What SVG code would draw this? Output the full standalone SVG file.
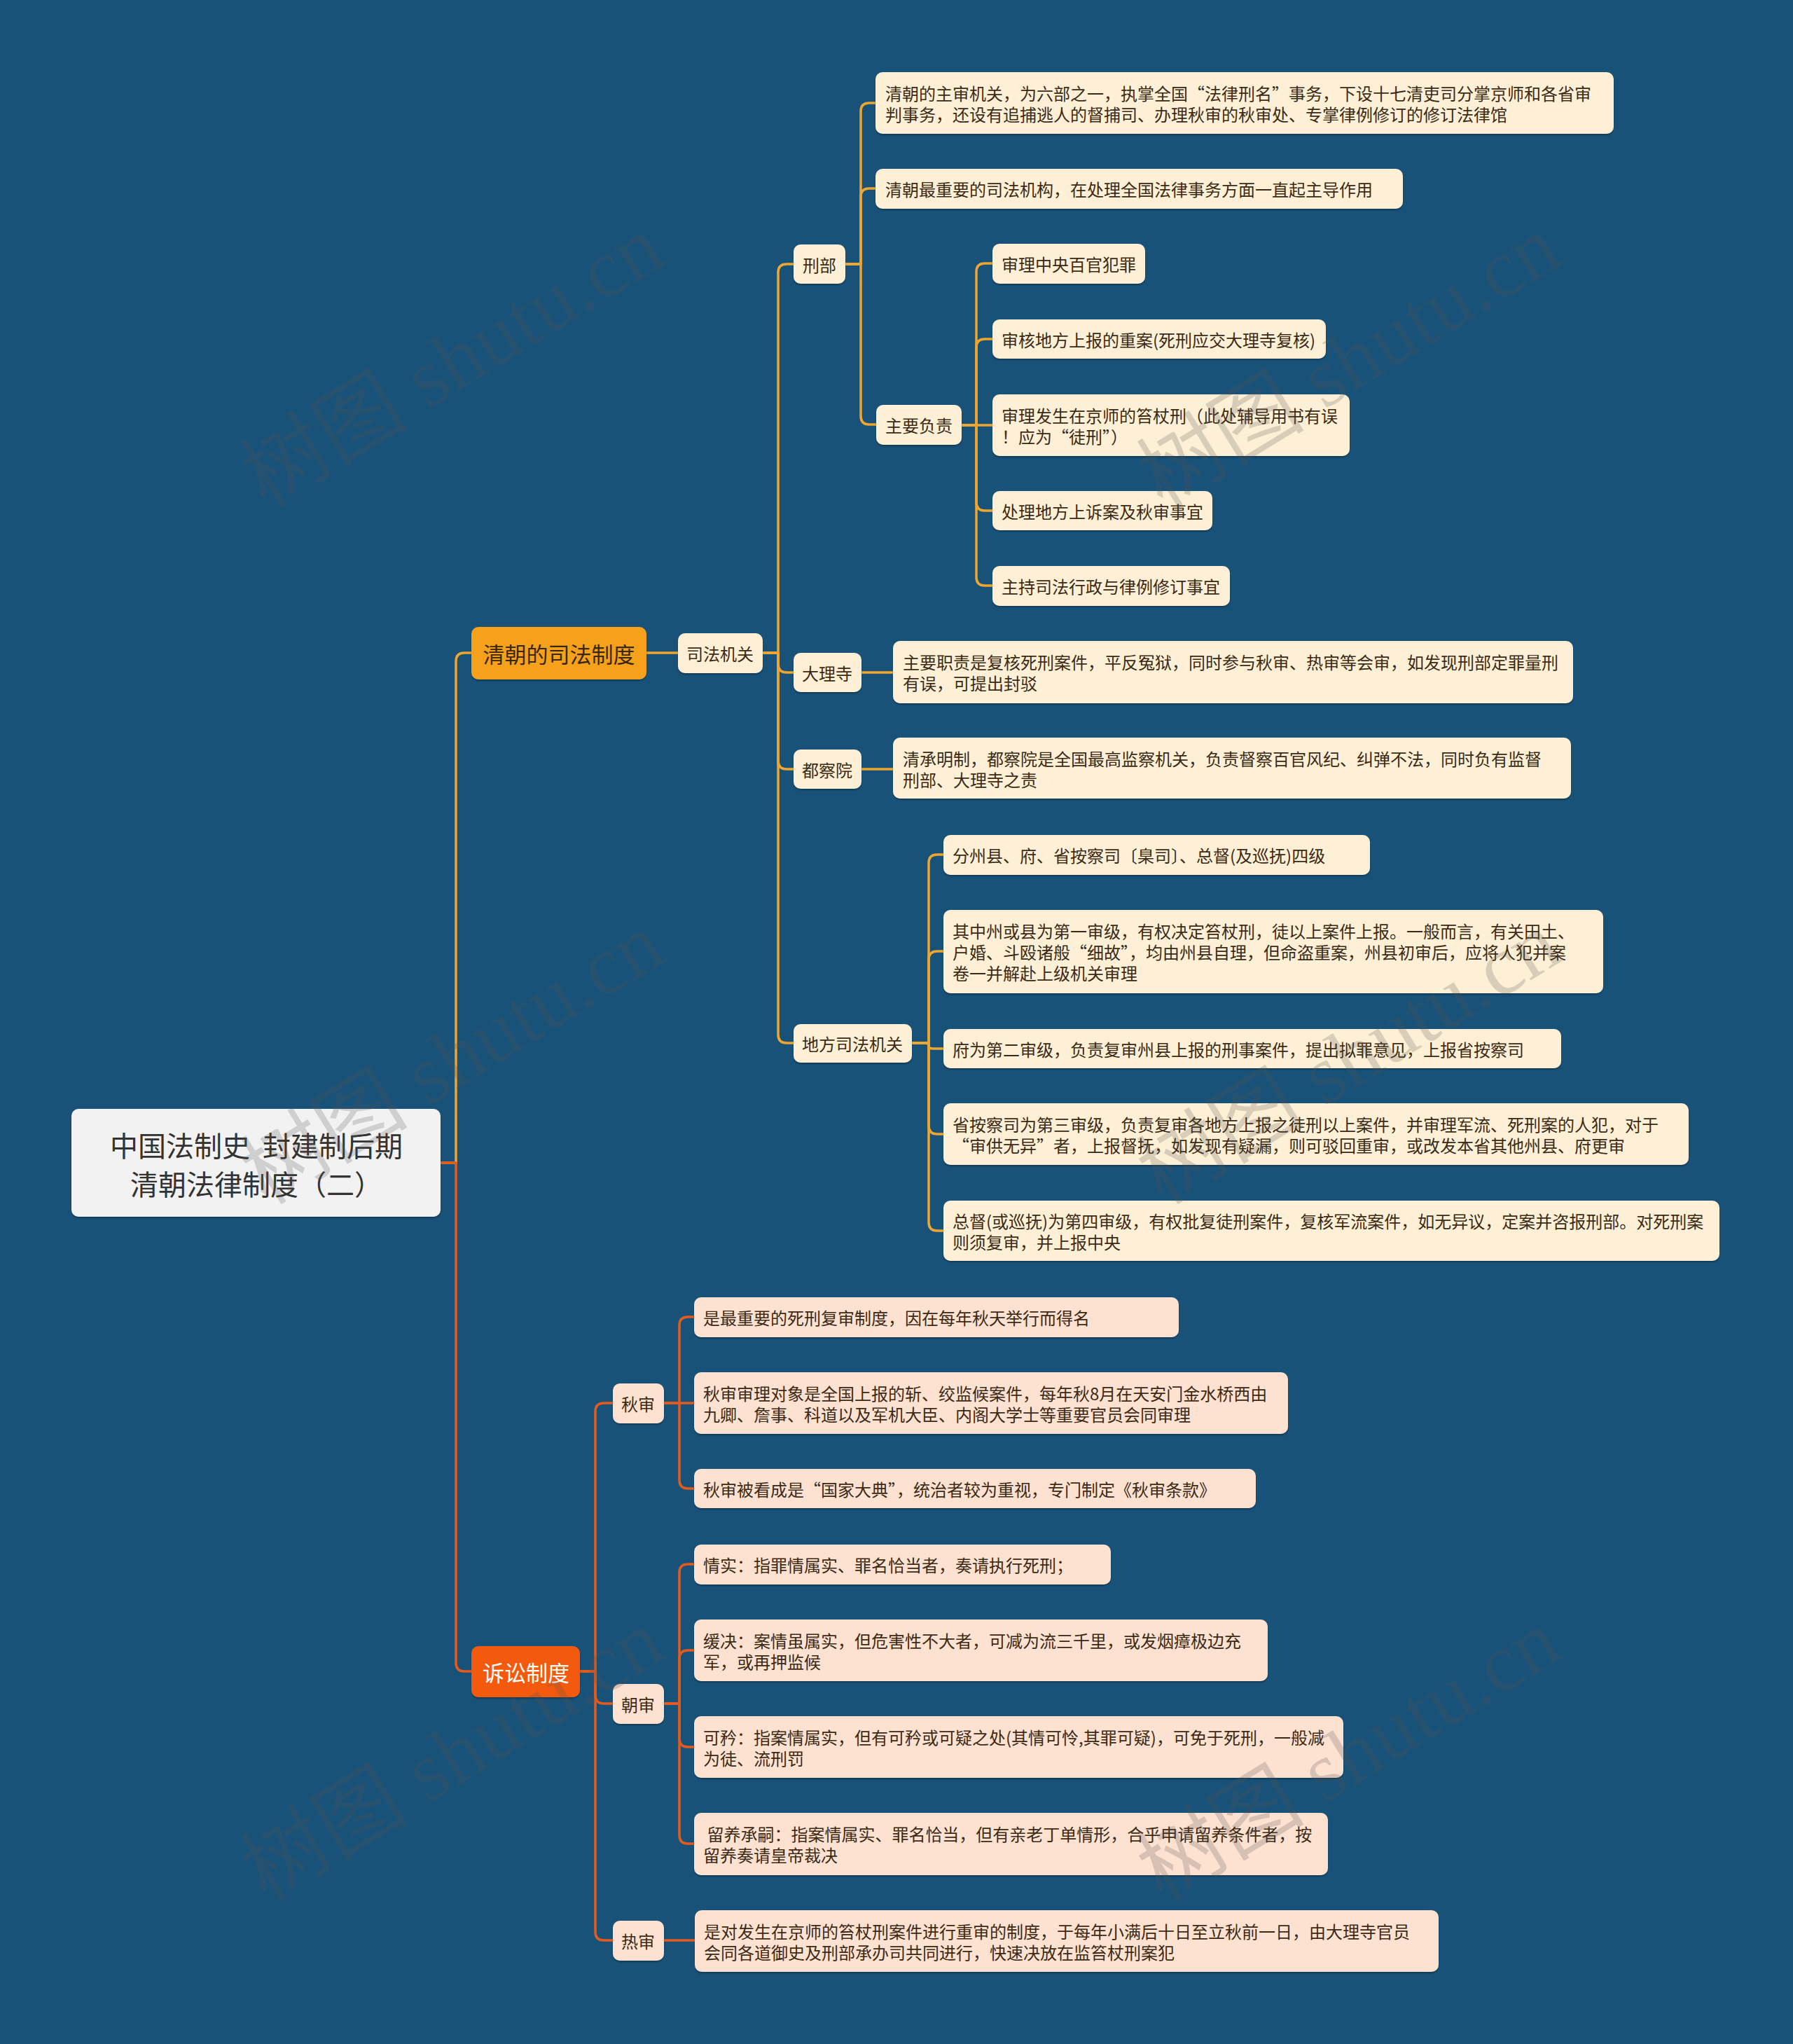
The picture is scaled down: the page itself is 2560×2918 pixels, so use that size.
<svg xmlns="http://www.w3.org/2000/svg" width="2560" height="2918" viewBox="0 0 2560 2918">
<defs>
<style>
.n1{fill:#fdf0d6}
.n2{fill:#fde1d1}
.t{font-family:"Noto Sans CJK SC","Noto Sans",sans-serif;font-size:24px;fill:#3c2a14;dominant-baseline:central}
.c{text-anchor:middle}
.l1{font-family:"Noto Sans CJK SC","Noto Sans",sans-serif;font-size:31px;dominant-baseline:central;text-anchor:middle}
.e{fill:none;stroke-width:3.5;stroke-linecap:round;stroke-linejoin:round}
.y{stroke:#eea631}
.r{stroke:#e35a1d}
.wm{font-family:"Liberation Serif","Noto Sans CJK SC",serif;font-size:120px;fill:#555555;opacity:0.22;text-anchor:middle;dominant-baseline:central}
</style>
<filter id="sh" x="-5%" y="-10%" width="110%" height="130%">
<feDropShadow dx="0" dy="2" stdDeviation="1.2" flood-color="#000000" flood-opacity="0.3"/>
</filter>
</defs>
<rect x="0" y="0" width="2560" height="2918" fill="#195278"/>

<g id="connectors">
<path class="e y" d="M629 1660 H651 V944 Q651 932 663 932 H673"/>
<path class="e r" d="M629 1660 H651 V2374 Q651 2386 663 2386 H673"/>
<path class="e y" d="M923 932 H968"/>
<path class="e y" d="M1089 932 H1111 V389 Q1111 377 1123 377 H1133"/>
<path class="e y" d="M1089 932 H1111 V948 Q1111 960 1123 960 H1133"/>
<path class="e y" d="M1089 932 H1111 V1086 Q1111 1098 1123 1098 H1133"/>
<path class="e y" d="M1089 932 H1111 V1477 Q1111 1489 1123 1489 H1133"/>
<path class="e y" d="M1207 377 H1229 V159 Q1229 147 1241 147 H1250"/>
<path class="e y" d="M1207 377 H1229 V281 Q1229 269 1241 269 H1250"/>
<path class="e y" d="M1207 377 H1229 V594 Q1229 606 1241 606 H1251"/>
<path class="e y" d="M1373 607 H1394 V388 Q1394 376 1406 376 H1417"/>
<path class="e y" d="M1373 607 H1394 V496 Q1394 484 1406 484 H1417"/>
<path class="e y" d="M1373 607 H1417"/>
<path class="e y" d="M1373 607 H1394 V717 Q1394 729 1406 729 H1417"/>
<path class="e y" d="M1373 607 H1394 V824 Q1394 836 1406 836 H1417"/>
<path class="e y" d="M1230 960 H1275"/>
<path class="e y" d="M1230 1098 H1275"/>
<path class="e y" d="M1302 1489 H1326 V1232 Q1326 1220 1338 1220 H1347"/>
<path class="e y" d="M1302 1489 H1326 V1370 Q1326 1358 1338 1358 H1347"/>
<path class="e y" d="M1302 1489 H1320 Q1326 1489 1326 1493 Q1326 1497 1332 1497 H1347"/>
<path class="e y" d="M1302 1489 H1326 V1607 Q1326 1619 1338 1619 H1347"/>
<path class="e y" d="M1302 1489 H1326 V1745 Q1326 1757 1338 1757 H1347"/>
<path class="e r" d="M828 2386 H850 V2015 Q850 2003 862 2003 H875"/>
<path class="e r" d="M828 2386 H850 V2420 Q850 2432 862 2432 H875"/>
<path class="e r" d="M828 2386 H850 V2758 Q850 2770 862 2770 H875"/>
<path class="e r" d="M948 2003 H970 V1892 Q970 1880 982 1880 H991"/>
<path class="e r" d="M948 2003 H991"/>
<path class="e r" d="M948 2003 H970 V2113 Q970 2125 982 2125 H991"/>
<path class="e r" d="M948 2432 H970 V2245 Q970 2233 982 2233 H991"/>
<path class="e r" d="M948 2432 H970 V2368 Q970 2356 982 2356 H991"/>
<path class="e r" d="M948 2432 H970 V2482 Q970 2494 982 2494 H991"/>
<path class="e r" d="M948 2432 H970 V2620 Q970 2632 982 2632 H991"/>
<path class="e r" d="M948 2770 H992"/>
</g>

<g id="root">
<rect x="102" y="1583" width="527" height="154" rx="10" fill="#f2f2f2" filter="url(#sh)"/>
<text class="l1" x="366" y="1634" style="font-size:40px;fill:#333333" xml:space="preserve">中国法制史  封建制后期</text>
<text class="l1" x="366" y="1689" style="font-size:40px;fill:#333333">清朝法律制度（二）</text>
</g>

<g id="n-sifa-zhidu">
<rect x="673" y="895" width="250" height="75" rx="10" fill="#f6a11e" filter="url(#sh)"/>
<text class="l1" x="798" y="932" style="fill:#3a2608">清朝的司法制度</text>
</g>
<g id="n-susong">
<rect x="673" y="2350" width="155" height="73" rx="10" fill="#f45a0c" filter="url(#sh)"/>
<text class="l1" x="751" y="2386" style="fill:#ffffff">诉讼制度</text>
</g>

<g id="n-sifa-jiguan">
<rect class="n1" x="968" y="904" width="121" height="57" rx="10" filter="url(#sh)"/>
<text class="t c" x="1028" y="932">司法机关</text>
</g>
<g id="n-xingbu">
<rect class="n1" x="1133" y="349" width="74" height="56" rx="10" filter="url(#sh)"/>
<text class="t c" x="1170" y="377">刑部</text>
</g>
<g id="n-dalisi">
<rect class="n1" x="1133" y="932" width="97" height="56" rx="10" filter="url(#sh)"/>
<text class="t c" x="1181" y="960">大理寺</text>
</g>
<g id="n-duchayuan">
<rect class="n1" x="1133" y="1070" width="97" height="56" rx="10" filter="url(#sh)"/>
<text class="t c" x="1181" y="1098">都察院</text>
</g>
<g id="n-difang">
<rect class="n1" x="1133" y="1462" width="169" height="55" rx="10" filter="url(#sh)"/>
<text class="t c" x="1217" y="1489">地方司法机关</text>
</g>

<g id="n-xb1">
<rect class="n1" x="1250" y="103" width="1054" height="88" rx="10" filter="url(#sh)"/>
<text class="t" x="1264" y="132">清朝的主审机关，为六部之一，执掌全国“法律刑名”事务，下设十七清吏司分掌京师和各省审</text>
<text class="t" x="1264" y="162">判事务，还设有追捕逃人的督捕司、办理秋审的秋审处、专掌律例修订的修订法律馆</text>
</g>
<g id="n-xb2">
<rect class="n1" x="1250" y="241" width="753" height="57" rx="10" filter="url(#sh)"/>
<text class="t" x="1264" y="269">清朝最重要的司法机构，在处理全国法律事务方面一直起主导作用</text>
</g>
<g id="n-zhuyao">
<rect class="n1" x="1251" y="578" width="122" height="57" rx="10" filter="url(#sh)"/>
<text class="t c" x="1312" y="606">主要负责</text>
</g>
<g id="n-zy1">
<rect class="n1" x="1417" y="348" width="218" height="57" rx="10" filter="url(#sh)"/>
<text class="t" x="1430" y="376">审理中央百官犯罪</text>
</g>
<g id="n-zy2">
<rect class="n1" x="1417" y="456" width="476" height="56" rx="10" filter="url(#sh)"/>
<text class="t" x="1430" y="484">审核地方上报的重案(死刑应交大理寺复核)</text>
</g>
<g id="n-zy3">
<rect class="n1" x="1417" y="563" width="510" height="88" rx="10" filter="url(#sh)"/>
<text class="t" x="1430" y="592">审理发生在京师的笞杖刑（此处辅导用书有误</text>
<text class="t" x="1430" y="622">！应为“徒刑”）</text>
</g>
<g id="n-zy4">
<rect class="n1" x="1417" y="701" width="314" height="56" rx="10" filter="url(#sh)"/>
<text class="t" x="1430" y="729">处理地方上诉案及秋审事宜</text>
</g>
<g id="n-zy5">
<rect class="n1" x="1417" y="808" width="339" height="57" rx="10" filter="url(#sh)"/>
<text class="t" x="1430" y="836">主持司法行政与律例修订事宜</text>
</g>

<g id="n-dl1">
<rect class="n1" x="1275" y="915" width="971" height="89" rx="10" filter="url(#sh)"/>
<text class="t" x="1289" y="944">主要职责是复核死刑案件，平反冤狱，同时参与秋审、热审等会审，如发现刑部定罪量刑</text>
<text class="t" x="1289" y="974">有误，可提出封驳</text>
</g>
<g id="n-dc1">
<rect class="n1" x="1275" y="1053" width="968" height="87" rx="10" filter="url(#sh)"/>
<text class="t" x="1289" y="1082">清承明制，都察院是全国最高监察机关，负责督察百官风纪、纠弹不法，同时负有监督</text>
<text class="t" x="1289" y="1112">刑部、大理寺之责</text>
</g>

<g id="n-df1">
<rect class="n1" x="1347" y="1192" width="609" height="57" rx="10" filter="url(#sh)"/>
<text class="t" x="1360" y="1220">分州县、府、省按察司〔臬司〕、总督(及巡抚)四级</text>
</g>
<g id="n-df2">
<rect class="n1" x="1347" y="1299" width="942" height="119" rx="10" filter="url(#sh)"/>
<text class="t" x="1360" y="1328">其中州或县为第一审级，有权决定笞杖刑，徒以上案件上报。一般而言，有关田土、</text>
<text class="t" x="1360" y="1358">户婚、斗殴诸般“细故”，均由州县自理，但命盗重案，州县初审后，应将人犯并案</text>
<text class="t" x="1360" y="1388">卷一并解赴上级机关审理</text>
</g>
<g id="n-df3">
<rect class="n1" x="1347" y="1469" width="882" height="56" rx="10" filter="url(#sh)"/>
<text class="t" x="1360" y="1497">府为第二审级，负责复审州县上报的刑事案件，提出拟罪意见，上报省按察司</text>
</g>
<g id="n-df4">
<rect class="n1" x="1347" y="1575" width="1064" height="88" rx="10" filter="url(#sh)"/>
<text class="t" x="1360" y="1604">省按察司为第三审级，负责复审各地方上报之徒刑以上案件，并审理军流、死刑案的人犯，对于</text>
<text class="t" x="1360" y="1634">“审供无异”者，上报督抚，如发现有疑漏，则可驳回重审，或改发本省其他州县、府更审</text>
</g>
<g id="n-df5">
<rect class="n1" x="1347" y="1714" width="1108" height="86" rx="10" filter="url(#sh)"/>
<text class="t" x="1360" y="1742">总督(或巡抚)为第四审级，有权批复徒刑案件，复核军流案件，如无异议，定案并咨报刑部。对死刑案</text>
<text class="t" x="1360" y="1772">则须复审，并上报中央</text>
</g>

<g id="n-qiushen">
<rect class="n2" x="875" y="1975" width="73" height="57" rx="10" filter="url(#sh)"/>
<text class="t c" x="911" y="2003">秋审</text>
</g>
<g id="n-chaoshen">
<rect class="n2" x="875" y="2404" width="73" height="57" rx="10" filter="url(#sh)"/>
<text class="t c" x="911" y="2432">朝审</text>
</g>
<g id="n-reshen">
<rect class="n2" x="875" y="2742" width="73" height="57" rx="10" filter="url(#sh)"/>
<text class="t c" x="911" y="2770">热审</text>
</g>

<g id="n-qs1">
<rect class="n2" x="991" y="1852" width="692" height="57" rx="10" filter="url(#sh)"/>
<text class="t" x="1004" y="1880">是最重要的死刑复审制度，因在每年秋天举行而得名</text>
</g>
<g id="n-qs2">
<rect class="n2" x="991" y="1959" width="848" height="88" rx="10" filter="url(#sh)"/>
<text class="t" x="1004" y="1988">秋审审理对象是全国上报的斩、绞监候案件，每年秋8月在天安门金水桥西由</text>
<text class="t" x="1004" y="2018">九卿、詹事、科道以及军机大臣、内阁大学士等重要官员会同审理</text>
</g>
<g id="n-qs3">
<rect class="n2" x="991" y="2097" width="802" height="56" rx="10" filter="url(#sh)"/>
<text class="t" x="1004" y="2125">秋审被看成是“国家大典”，统治者较为重视，专门制定《秋审条款》</text>
</g>
<g id="n-cs1">
<rect class="n2" x="991" y="2205" width="595" height="57" rx="10" filter="url(#sh)"/>
<text class="t" x="1004" y="2233">情实：指罪情属实、罪名恰当者，奏请执行死刑；</text>
</g>
<g id="n-cs2">
<rect class="n2" x="991" y="2312" width="819" height="88" rx="10" filter="url(#sh)"/>
<text class="t" x="1004" y="2341">缓决：案情虽属实，但危害性不大者，可减为流三千里，或发烟瘴极边充</text>
<text class="t" x="1004" y="2371">军，或再押监候</text>
</g>
<g id="n-cs3">
<rect class="n2" x="991" y="2450" width="927" height="88" rx="10" filter="url(#sh)"/>
<text class="t" x="1004" y="2479">可矜：指案情属实，但有可矜或可疑之处(其情可怜,其罪可疑)，可免于死刑，一般减</text>
<text class="t" x="1004" y="2509">为徒、流刑罚</text>
</g>
<g id="n-cs4">
<rect class="n2" x="991" y="2588" width="905" height="89" rx="10" filter="url(#sh)"/>
<text class="t" x="1004" y="2617" xml:space="preserve"> 留养承嗣：指案情属实、罪名恰当，但有亲老丁单情形，合乎申请留养条件者，按</text>
<text class="t" x="1004" y="2647">留养奏请皇帝裁决</text>
</g>
<g id="n-rs1">
<rect class="n2" x="992" y="2727" width="1062" height="88" rx="10" filter="url(#sh)"/>
<text class="t" x="1005" y="2756">是对发生在京师的笞杖刑案件进行重审的制度，于每年小满后十日至立秋前一日，由大理寺官员</text>
<text class="t" x="1005" y="2786">会同各道御史及刑部承办司共同进行，快速决放在监笞杖刑案犯</text>
</g>

<g id="watermarks">
<text class="wm" transform="translate(646 516) rotate(-31.5)">树图 shutu.cn</text>
<text class="wm" transform="translate(1926 516) rotate(-31.5)">树图 shutu.cn</text>
<text class="wm" transform="translate(646 1511) rotate(-31.5)">树图 shutu.cn</text>
<text class="wm" transform="translate(1926 1511) rotate(-31.5)">树图 shutu.cn</text>
<text class="wm" transform="translate(646 2506) rotate(-31.5)">树图 shutu.cn</text>
<text class="wm" transform="translate(1926 2506) rotate(-31.5)">树图 shutu.cn</text>
</g>
</svg>
